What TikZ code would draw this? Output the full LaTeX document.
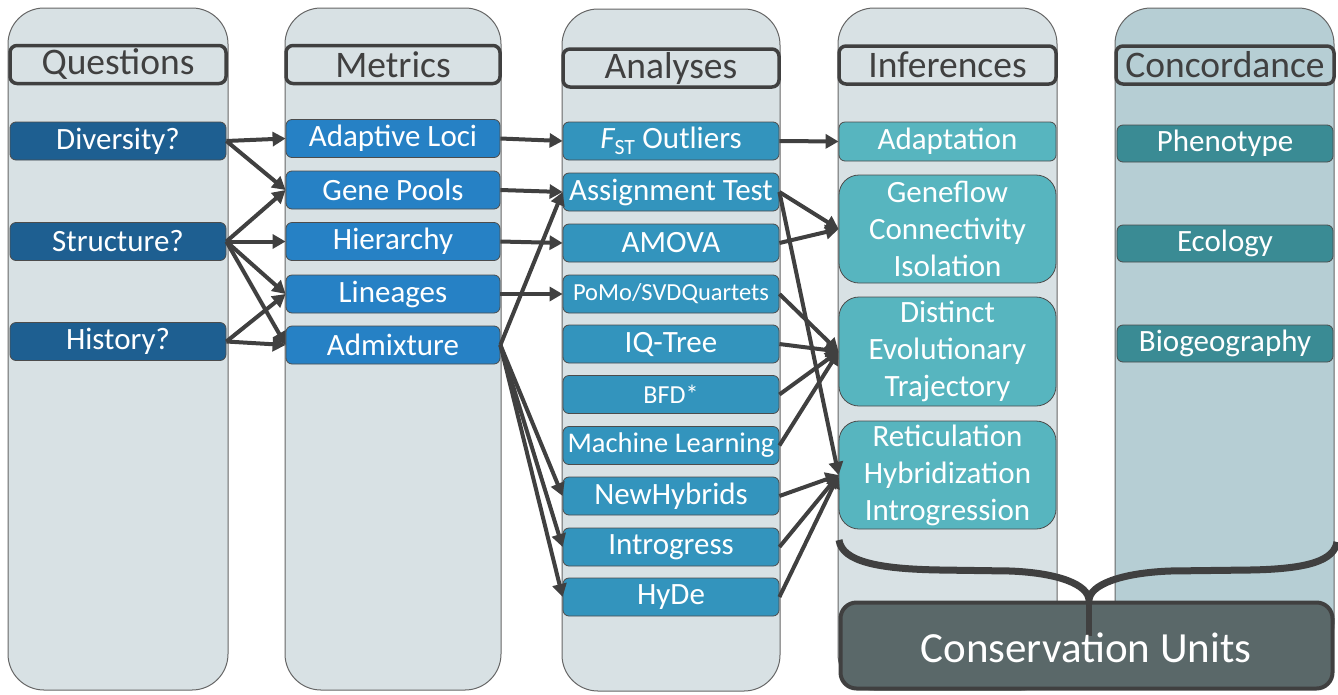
\documentclass[tikz,border=0pt]{standalone}
\usepackage{fontspec}
\setmainfont{Carlito}
\usetikzlibrary{arrows.meta}
\usepackage{xcolor}
\definecolor{colfill}{HTML}{D8E1E4}
\definecolor{concfill}{HTML}{B6CED4}
\definecolor{qblue}{HTML}{1E5F91}
\definecolor{mblue}{HTML}{2681C5}
\definecolor{ablue}{HTML}{3394BD}
\definecolor{iteal}{HTML}{57B5BF}
\definecolor{cteal}{HTML}{3A8B94}
\definecolor{cugray}{HTML}{5A6869}
\definecolor{ink}{HTML}{404040}

\begin{document}
\begin{tikzpicture}[x=1pt,y=-1pt]
	\tikzset{column/.style = {draw=black!60, line width=1pt, fill=colfill,
			rounded corners=36pt, minimum height=682pt, inner sep=0pt}}
	\tikzset{header/.style = {draw=ink, line width=3.5pt, rounded corners=7pt,
			minimum height=38pt, inner sep=0pt, text=ink,
			font=\fontsize{37.5}{40}\selectfont}}
	\tikzset{box/.style = {draw=black!70, line width=0.8pt, rounded corners=6pt,
			minimum height=38pt, inner sep=0pt, text=white, align=center,
			font=\fontsize{31}{37}\selectfont}}
	\tikzset{qbox/.style = {box, fill=qblue, minimum width=216pt}}
	\tikzset{mbox/.style = {box, fill=mblue, minimum width=214pt}}
	\tikzset{abox/.style = {box, fill=ablue, minimum width=216pt}}
	\tikzset{ibox/.style = {box, fill=iteal, minimum width=217pt}}
	\tikzset{cbox/.style = {box, fill=cteal, minimum width=216pt}}
	\tikzset{edge/.style = {draw=ink, line width=4pt, -{Triangle[length=13pt,width=14pt]}}}
	\useasboundingbox (0,0) rectangle (1338,694);
    % columns
    \node[column, minimum width=220pt] (colq) at (118,349) {};
    \node[column, minimum width=216pt] (colm) at (393,349) {};
    \node[column, minimum width=218pt] (cola) at (671,350) {};
    \node[column, minimum width=219pt] (coli) at (947.5,349) {};
    \node[column, minimum width=219pt, minimum height=652pt, fill=concfill] (colc) at (1224.5,334) {};
    % headers
    \node[header, minimum width=216pt] (hq) at (118,64.5) {Questions};
    \node[header, minimum width=214pt] (hm) at (393,64.5) {Metrics};
    \node[header, minimum width=216pt] (ha) at (671,68) {Analyses};
    \node[header, minimum width=217pt] (hi) at (947.5,65) {Inferences};
    \node[header, minimum width=218pt] (hc) at (1225,65) {Concordance};
    % questions
    \node[qbox] (div) at (118,141) {Diversity?};
    \node[qbox] (str) at (118,241.5) {Structure?};
    \node[qbox] (his) at (118,341.5) {History?};
    % metrics
    \node[mbox] (adl) at (393,138.5) {Adaptive Loci};
    \node[mbox] (gen) at (393,190) {Gene Pools};
    \node[mbox] (hie) at (393,241.5) {Hierarchy};
    \node[mbox] (lin) at (393,294) {Lineages};
    \node[mbox] (adm) at (393,345) {Admixture};
    % analyses
    \node[abox] (fst) at (671,141) {{\itshape F}\textsubscript{ST} Outliers};
    \node[abox] (ass) at (671,192) {Assignment Test};
    \node[abox] (amo) at (671,243) {AMOVA};
    \node[abox, font=\fontsize{24.5}{28}\selectfont] (pom) at (671,294) {PoMo/SVDQuartets};
    \node[abox] (iqt) at (671,344) {IQ-Tree};
    \node[abox, font=\fontsize{26}{28}\selectfont] (bfd) at (671,394.5) {BFD*};
    \node[abox, font=\fontsize{28.5}{31}\selectfont] (mac) at (671,445.5) {Machine Learning};
    \node[abox] (neh) at (671,496) {NewHybrids};
    \node[abox] (int) at (671,547) {Introgress};
    \node[abox] (hyd) at (671,597) {HyDe};
    % inferences
    \node[ibox, minimum height=39pt] (ada) at (947.5,141.5) {Adaptation};
    \node[ibox, minimum height=108pt, rounded corners=20pt] (gfl) at (947.5,229) {Geneflow\\Connectivity\\Isolation};
    \node[ibox, minimum height=109pt, rounded corners=20pt] (det) at (947.5,351.5) {Distinct\\Evolutionary\\Trajectory};
    \node[ibox, minimum height=108pt, rounded corners=20pt] (ret) at (947.5,475) {Reticulation\\Hybridization\\Introgression};
    % concordance
    \node[cbox, minimum height=37pt] (phe) at (1225,143.5) {Phenotype};
    \node[cbox, minimum height=37pt] (eco) at (1225,243.5) {Ecology};
    \node[cbox, minimum height=37pt] (bio) at (1225,343.5) {Biogeography};
    %edges
    \draw[edge] (div.east) -- (adl.west);
    \draw[edge] (div.east) -- (gen.west);
    \draw[edge] (str.east) -- (gen.west);
    \draw[edge] (str.east) -- (hie.west);
    \draw[edge] (str.east) -- (lin.west);
    \draw[edge] (str.east) -- (adm.west);
    \draw[edge] (his.east) -- (lin.west);
    \draw[edge] (his.east) -- (adm.west);
    \draw[edge] (adl.east) -- (fst.west);
    \draw[edge] (gen.east) -- (ass.west);
    \draw[edge] (hie.east) -- (amo.west);
    \draw[edge] (lin.east) -- (pom.west);
    \draw[edge] (adm.east) -- (ass.west);
    \draw[edge] (adm.east) -- (neh.west);
    \draw[edge] (adm.east) -- (int.west);
    \draw[edge] (adm.east) -- (hyd.west);
    \draw[edge] (fst.east) -- (ada.west);
    \draw[edge] (ass.east) -- (gfl.west);
    \draw[edge] (amo.east) -- (gfl.west);
    \draw[edge] (ass.east) -- (ret.west);
    \draw[edge] (pom.east) -- (det.west);
    \draw[edge] (iqt.east) -- (det.west);
    \draw[edge] (bfd.east) -- (det.west);
    \draw[edge] (mac.east) -- (det.west);
    \draw[edge] (neh.east) -- (ret.west);
    \draw[edge] (int.east) -- (ret.west);
    \draw[edge] (hyd.east) -- (ret.west);
    % conservation units
    \node[draw=ink, line width=4pt, fill=cugray, rounded corners=16pt,
          minimum width=492pt, minimum height=86pt] (cu) at (1086.5,645.5) {};
    \draw[ink, line width=7pt, line join=round]
        (839,540) .. controls (842,562) and (880,569) .. (940,570) -- (1010,571)
        .. controls (1060,573) and (1088,585) .. (1089,600)
        .. controls (1090,585) and (1120,573) .. (1170,571) -- (1250,570)
        .. controls (1310,569) and (1334,560) .. (1337,542);
    \draw[ink, line width=6pt] (1089,598) -- (1089,636);
    \node[text=white, font=\fontsize{43}{48}\selectfont] (cut) at (1086,648) {Conservation Units};
\end{tikzpicture}
\end{document}
